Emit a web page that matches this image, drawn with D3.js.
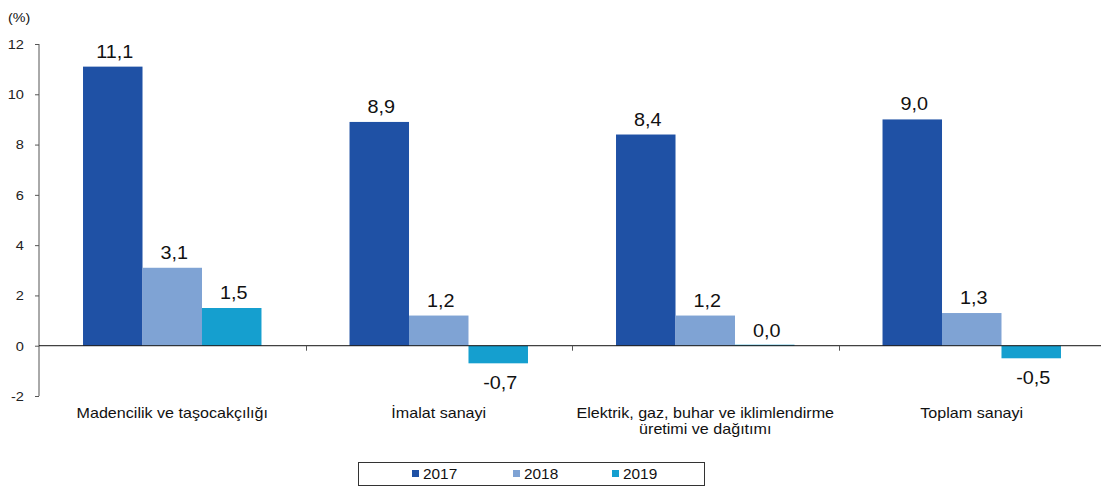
<!DOCTYPE html>
<html><head><meta charset="utf-8">
<script src="https://cdn.jsdelivr.net/npm/d3@7"></script>
<style>body{margin:0;background:#fff;}svg{display:block;font-family:"Liberation Sans",Arial,sans-serif;}</style>
</head><body>
<script>
const categories = [["Madencilik ve taşocakçılığı"],["İmalat sanayi"],["Elektrik, gaz, buhar ve iklimlendirme","üretimi ve dağıtımı"],["Toplam sanayi"]];
const series = ["2017","2018","2019"];
const values2017 = [11.1, 8.9, 8.4, 9.0];
const values2018 = [3.1, 1.2, 1.2, 1.3];
const values2019 = [1.5, -0.7, 0.0, -0.5];
const yTicks = [-2,0,2,4,6,8,10,12];
const colors = ["#1F51A5","#7FA3D4","#159FCF"];

const W=1101,H=488;
const svg=d3.select("body").append("svg").attr("width",W).attr("height",H);
const x0=d3.scaleBand().domain(d3.range(categories.length)).range([39,1105]).paddingInner(0).paddingOuter(0);
const x1=d3.scaleBand().domain(series).range([0,x0.bandwidth()]).paddingInner(0).paddingOuter(0.74);
const y=d3.scaleLinear().domain([-2,12]).range([396,44]);
const data=[values2017,values2018,values2019];
const fmt=v=>v.toFixed(1).replace(".",",");

function txt(x,yy,s,size,anchor,sx){
  return svg.append("text").attr("transform",`translate(${x},${yy}) scale(${sx},1)`)
    .attr("text-anchor",anchor).attr("font-size",size).attr("fill","#111").text(s);
}

// y axis
const yAxis=d3.axisLeft(y).tickValues(yTicks).tickSize(4).tickPadding(10).tickFormat(d=>d);
const ga=svg.append("g").attr("transform","translate(39,0)").call(yAxis);
ga.select(".domain").attr("stroke","#555").attr("d","M0,"+y(-2)+"V"+y(12));
ga.selectAll(".tick line").attr("stroke","#555");
ga.selectAll(".tick text").attr("font-size",13.5).attr("fill","#222").attr("font-family","Liberation Sans, Arial, sans-serif")
  .attr("transform","scale(1.08,1)");

txt(8,22,"(%)",13,"start",1.1);

// bars
categories.forEach((c,i)=>{
  series.forEach((s,j)=>{
    const v=data[j][i];
    const bx=x0(i)+x1(s);
    const top=v>=0?y(v):y(0);
    const h=Math.max(Math.abs(y(v)-y(0)),v===0?1:0);
    svg.append("rect").attr("x",bx).attr("y",v===0?y(0)-1:top).attr("width",x1.bandwidth()).attr("height",h).attr("fill",colors[j]);
    const cx=bx+x1.bandwidth()/2+2;
    const ly=v>=0?y(v)-9:y(v)+26;
    txt(cx,ly,fmt(v),18,"middle",1.1);
  });
});

// zero line
svg.append("line").attr("x1",39).attr("x2",1101).attr("y1",y(0)).attr("y2",y(0)).attr("stroke","#111").attr("stroke-width",1);
for(let i=1;i<categories.length;i++){
  const xx=Math.round(x0(i))+0.5;
  svg.append("line").attr("x1",xx).attr("x2",xx).attr("y1",y(0)).attr("y2",y(0)+5).attr("stroke","#555");
}

// category labels
categories.forEach((c,i)=>{
  c.forEach((line,k)=>txt(x0(i)+x0.bandwidth()/2,418+k*16,line,14,"middle",1.15));
});

// legend
svg.append("rect").attr("x",358.5).attr("y",462.5).attr("width",346).attr("height",23).attr("fill","none").attr("stroke","#333");
const lx=[412,513,612];
series.forEach((s,j)=>{
  svg.append("rect").attr("x",lx[j]).attr("y",470).attr("width",7).attr("height",7).attr("fill",colors[j]);
  txt(lx[j]+11,479,s,14,"start",1.1);
});
</script>
</body></html>
